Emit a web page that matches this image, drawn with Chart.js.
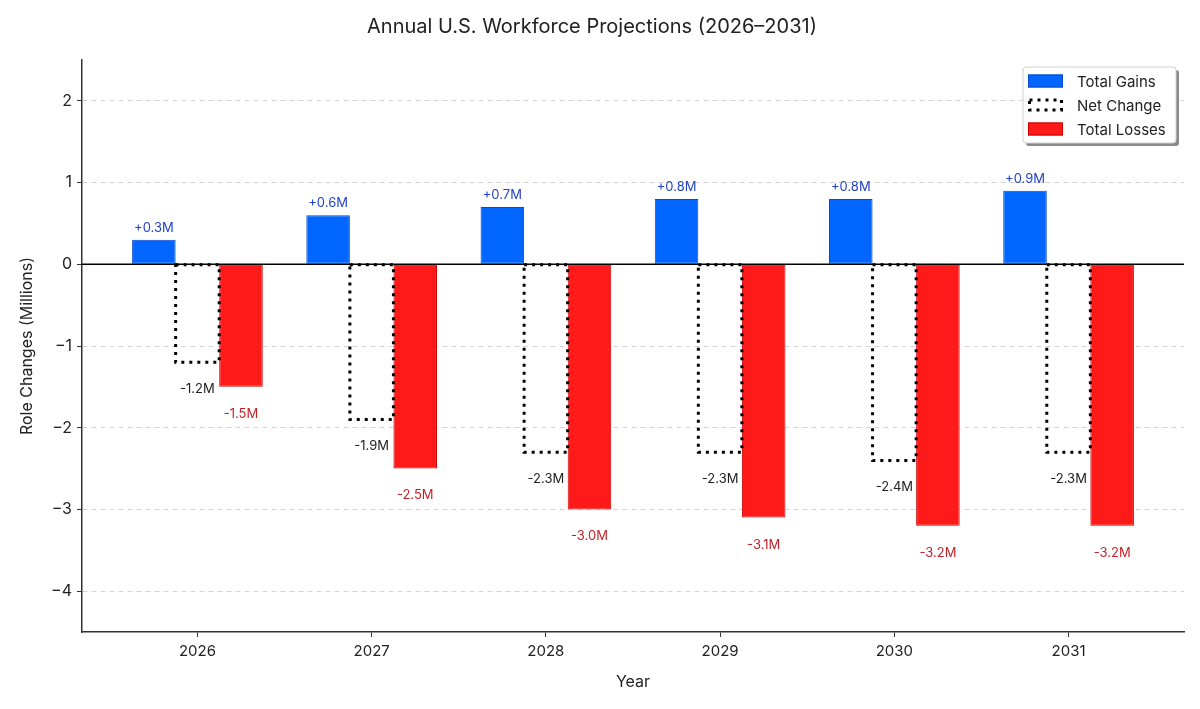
<!DOCTYPE html>
<html>
<head>
<meta charset="utf-8">
<script src="https://cdn.jsdelivr.net/npm/chart.js@4.4.1/dist/chart.umd.min.js"></script>
<style>
  body { margin: 0; background: #fff; }
  canvas { display: block; }
</style>
</head>
<body>
<canvas id="myChart" width="1200" height="709"></canvas>
<script>
const years = ['2026', '2027', '2028', '2029', '2030', '2031'];
const gains = [0.3, 0.6, 0.7, 0.8, 0.8, 0.9];
const netChange = [-1.2, -1.9, -2.3, -2.3, -2.4, -2.3];
const losses = [-1.5, -2.5, -3.0, -3.1, -3.2, -3.2];
const yTicks = [2, 1, 0, -1, -2, -3, -4];

const FONT = "'Inter', 'DejaVu Sans', sans-serif";
Chart.defaults.font.family = FONT;
Chart.defaults.color = '#222';

const toPoints = (arr) => arr.map((v, i) => ({ x: i, y: v }));

// zero reference line, dotted net change outlines and value labels
const barExtras = {
    id: 'barExtras',
    afterDatasetsDraw(chart) {
        const ctx = chart.ctx;
        const area = chart.chartArea;
        const y0 = chart.scales.y.getPixelForValue(0);
        ctx.save();
        ctx.strokeStyle = '#000';
        ctx.lineWidth = 1.5;
        ctx.beginPath();
        ctx.moveTo(area.left, y0);
        ctx.lineTo(area.right, y0);
        ctx.stroke();

        // net change: dotted outline only
        const netMeta = chart.getDatasetMeta(1);
        ctx.setLineDash([3, 5]);
        ctx.lineWidth = 3;
        ctx.strokeStyle = '#000';
        netMeta.data.forEach((bar) => {
            const p = bar.getProps(['x', 'y', 'base', 'width'], true);
            ctx.strokeRect(p.x - p.width / 2, p.base, p.width, p.y - p.base);
        });
        ctx.setLineDash([]);

        ctx.font = '13px ' + FONT;
        ctx.textAlign = 'center';
        ctx.textBaseline = 'middle';
        chart.getDatasetMeta(0).data.forEach((bar, i) => {
            ctx.fillStyle = '#2243c8';
            ctx.fillText('+' + gains[i].toFixed(1) + 'M', bar.x, bar.y - 12);
        });
        netMeta.data.forEach((bar, i) => {
            ctx.fillStyle = '#222';
            ctx.fillText(netChange[i].toFixed(1) + 'M', bar.x, bar.y + 27);
        });
        chart.getDatasetMeta(2).data.forEach((bar, i) => {
            ctx.fillStyle = '#c42228';
            ctx.fillText(losses[i].toFixed(1) + 'M', bar.x, bar.y + 27);
        });
        ctx.restore();
    }
};

// legend box in the upper right of the plot
const cornerLegend = {
    id: 'cornerLegend',
    afterDraw(chart) {
        const ctx = chart.ctx;
        const area = chart.chartArea;
        const w = 153, h = 76;
        const x = area.right - 8 - w;
        const y = area.top + 7;
        ctx.save();
        ctx.fillStyle = '#8a8a8a';
        ctx.beginPath();
        ctx.roundRect(x + 3, y + 3, w, h, 3);
        ctx.fill();
        ctx.fillStyle = '#fff';
        ctx.strokeStyle = '#d0d0d0';
        ctx.lineWidth = 1;
        ctx.beginPath();
        ctx.roundRect(x, y, w, h, 3);
        ctx.fill();
        ctx.stroke();

        const items = chart.data.datasets.map((ds) => ds.label);
        ctx.font = '15px ' + FONT;
        ctx.textAlign = 'left';
        ctx.textBaseline = 'middle';
        items.forEach((label, i) => {
            const cy = y + 14 + i * 24;
            const px = x + 5;
            if (i === 1) {
                ctx.setLineDash([3, 5]);
                ctx.lineWidth = 3;
                ctx.strokeStyle = '#000';
                ctx.strokeRect(px + 1.5, cy - 5, 32, 10);
                ctx.setLineDash([]);
            } else {
                const ds = chart.data.datasets[i];
                ctx.fillStyle = ds.backgroundColor;
                ctx.fillRect(px, cy - 6.5, 35, 13);
                ctx.strokeStyle = ds.borderColor;
                ctx.lineWidth = 1;
                ctx.strokeRect(px + 0.5, cy - 6, 34, 12);
            }
            ctx.fillStyle = '#222';
            ctx.fillText(label, x + 54, cy + 1);
        });
        ctx.restore();
    }
};

new Chart(document.getElementById('myChart'), {
    type: 'bar',
    data: {
        datasets: [
            {
                label: 'Total Gains',
                data: toPoints(gains),
                backgroundColor: '#0066ff',
                borderColor: '#0a49c8',
                borderWidth: 1,
                borderSkipped: false
            },
            {
                label: 'Net Change',
                data: toPoints(netChange),
                backgroundColor: 'rgba(0,0,0,0)',
                borderWidth: 0
            },
            {
                label: 'Total Losses',
                data: toPoints(losses),
                backgroundColor: '#ff1a1a',
                borderColor: '#c80000',
                borderWidth: 1,
                borderSkipped: false
            }
        ]
    },
    options: {
        responsive: false,
        animation: false,
        categoryPercentage: 0.75,
        barPercentage: 1,
        layout: { padding: { left: 0, right: 16, top: 0, bottom: 0 } },
        plugins: {
            legend: { display: false },
            tooltip: { enabled: false },
            title: {
                display: true,
                text: 'Annual U.S. Workforce Projections (2026\u20132031)',
                color: '#222',
                font: { size: 20, weight: 'normal' },
                padding: { top: 15, bottom: 21 }
            }
        },
        scales: {
            x: {
                type: 'linear',
                offset: false,
                min: -0.6625,
                max: 5.6625,
                afterBuildTicks: (scale) => { scale.ticks = years.map((_, i) => ({ value: i })); },
                afterFit: (scale) => { scale.height = 77; },
                ticks: {
                    callback: (v) => years[v],
                    color: '#222',
                    font: { size: 15 },
                    padding: 5,
                    maxRotation: 0
                },
                grid: { offset: false, drawOnChartArea: false, tickLength: 5, tickColor: '#333', tickWidth: 1 },
                border: { color: '#333', width: 1.5 },
                title: {
                    display: true,
                    text: 'Year',
                    color: '#222',
                    font: { size: 16 },
                    padding: { top: 0, bottom: 17 }
                }
            },
            y: {
                min: -4.5,
                max: 2.5,
                afterBuildTicks: (scale) => { scale.ticks = yTicks.map((v) => ({ value: v })); },
                afterFit: (scale) => { scale.width = 82; },
                ticks: {
                    callback: (v) => (v < 0 ? '\u2212' + (-v) : String(v)),
                    color: '#222',
                    font: { size: 16 },
                    padding: 5
                },
                grid: { color: '#d4d4d4', lineWidth: 1, tickLength: 5, tickColor: '#333', tickWidth: 1, tickBorderDash: [] },
                border: { color: '#333', width: 1.5, dash: [5, 4] },
                title: {
                    display: true,
                    text: 'Role Changes (Millions)',
                    color: '#222',
                    font: { size: 16 },
                    padding: { top: 18, bottom: 0 }
                }
            }
        }
    },
    plugins: [barExtras, cornerLegend]
});
</script>
</body>
</html>
